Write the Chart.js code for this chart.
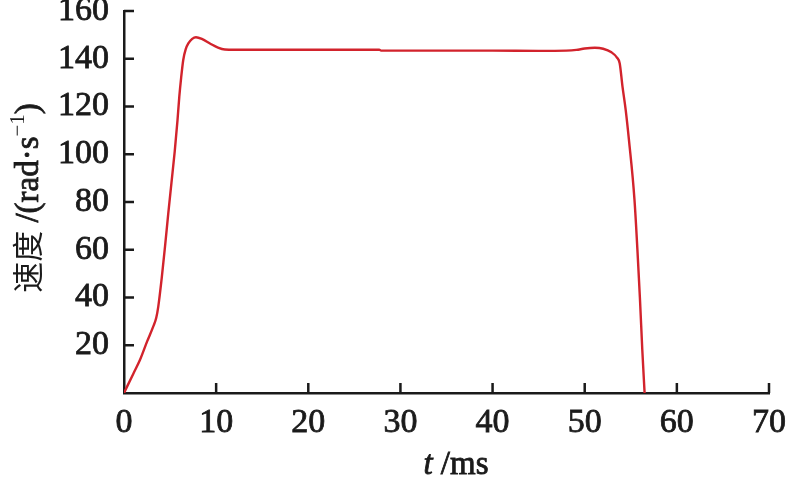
<!DOCTYPE html>
<html>
<head>
<meta charset="utf-8">
<script src="https://cdn.jsdelivr.net/npm/chart.js@4.4.1/dist/chart.umd.min.js"></script>
<style>
html,body{margin:0;padding:0;background:#fff;}
#wrap{width:788px;height:480px;position:relative;}
</style>
</head>
<body>
<div id="wrap"><canvas id="c" width="788" height="480"></canvas></div>
<script>
// time in ms
const timeMs = [0, 1.0, 1.74, 2.5, 3.18, 3.5, 3.72, 4.09, 4.45, 4.8, 5.15, 5.5, 5.8, 6.0, 6.2, 6.43, 6.7, 6.98, 7.4, 7.81, 8.5, 9.33, 10.2, 10.95, 12, 20, 27.7, 27.9, 40, 45, 48, 49.1, 50, 51.1, 52, 52.9, 53.5, 53.8, 54.1, 54.45, 54.8, 55.4, 56.0, 56.25, 56.5];
// speed in rad/s
const speed = [0, 8, 13.9, 21.5, 27.9, 31.5, 36.2, 48, 61.3, 75, 88, 101, 114, 124, 132, 139.5, 144, 146.4, 148.3, 149, 148.2, 146.4, 144.7, 143.9, 143.8, 143.8, 143.8, 143.4, 143.4, 143.3, 143.4, 143.7, 144.3, 144.6, 144.2, 142.7, 140.5, 138, 128.3, 118.5, 106, 81, 39, 18, 0];
const xTicks = [0, 10, 20, 30, 40, 50, 60, 70];
const yTicks = [0, 20, 40, 60, 80, 100, 120, 140, 160];
const xTitleItalic = 't';
const xTitleRest = ' /ms';
const yTitleCJK = '速度';
const yTitleLatin = ' /(rad·s';
const yTitleSup = '−1';
const yTitleEnd = ')';

const points = timeMs.map((t, i) => ({x: t, y: speed[i]}));
const INK = '#1a1a1a';
const SERIF = '"Liberation Serif", "Times New Roman", serif';

const tickPlugin = {
  id: 'inwardTicks',
  afterDraw(chart) {
    const ctx = chart.ctx;
    const xs = chart.scales.x, ys = chart.scales.y;
    const a = chart.chartArea;
    ctx.save();
    ctx.strokeStyle = INK;
    ctx.lineWidth = 2.5;
    ctx.beginPath();
    xTicks.forEach(v => {
      if (v === 0) return;
      const px = xs.getPixelForValue(v);
      ctx.moveTo(px, a.bottom);
      ctx.lineTo(px, a.bottom - 10);
    });
    yTicks.forEach(v => {
      if (v === 0) return;
      const py = ys.getPixelForValue(v);
      ctx.moveTo(a.left, py);
      ctx.lineTo(a.left + 10, py);
    });
    ctx.stroke();

    // x title
    ctx.fillStyle = INK;
    ctx.strokeStyle = INK;
    ctx.lineWidth = 0.8;
    ctx.textBaseline = 'alphabetic';
    const tFontI = 'italic 33px ' + SERIF;
    const tFont = '33px ' + SERIF;
    ctx.font = tFontI;
    const w1 = ctx.measureText(xTitleItalic).width;
    ctx.font = tFont;
    const w2 = ctx.measureText(xTitleRest).width;
    let x0 = 456 - (w1 + w2) / 2;
    const by = 474;
    ctx.font = tFontI;
    ctx.fillText(xTitleItalic, x0, by); ctx.strokeText(xTitleItalic, x0, by);
    ctx.font = tFont;
    ctx.fillText(xTitleRest, x0 + w1, by); ctx.strokeText(xTitleRest, x0 + w1, by);

    // y title rotated
    ctx.save();
    ctx.translate(38, 198);
    ctx.rotate(-Math.PI / 2);
    const cjkFont = '31px "Noto Sans CJK SC", sans-serif';
    const latFont = '33px ' + SERIF;
    const supFont = '21px ' + SERIF;
    ctx.font = cjkFont; const c1 = ctx.measureText(yTitleCJK).width;
    ctx.font = latFont; const c2 = ctx.measureText(yTitleLatin).width;
    ctx.font = supFont; const c3 = ctx.measureText(yTitleSup).width;
    ctx.font = latFont; const c4 = ctx.measureText(yTitleEnd).width;
    let sx = -(c1 + c2 + c3 + c4) / 2;
    ctx.font = cjkFont; ctx.fillText(yTitleCJK, sx, 1); sx += c1;
    ctx.font = latFont; ctx.fillText(yTitleLatin, sx, 0); ctx.strokeText(yTitleLatin, sx, 0); sx += c2;
    ctx.font = supFont; ctx.fillText(yTitleSup, sx, -14); sx += c3;
    ctx.font = latFont; ctx.fillText(yTitleEnd, sx, 0); ctx.strokeText(yTitleEnd, sx, 0);
    ctx.restore();
    ctx.restore();
  }
};

new Chart(document.getElementById('c'), {
  type: 'scatter',
  data: {
    datasets: [{
      data: points,
      showLine: true,
      borderColor: '#d2232c',
      borderWidth: 2.4,
      pointRadius: 0,
      cubicInterpolationMode: 'monotone',
      fill: false
    }]
  },
  options: {
    responsive: false,
    animation: false,
    devicePixelRatio: 1,
    layout: {padding: {top: 11, right: 19, left: 0, bottom: 0}},
    plugins: {legend: {display: false}, tooltip: {enabled: false}},
    scales: {
      x: {
        type: 'linear', min: 0, max: 70,
        afterBuildTicks: s => { s.ticks = xTicks.map(v => ({value: v})); },
        afterFit: s => { s.height = 87; s.paddingLeft = 0; s.paddingRight = 0; },
        grid: {display: false, drawTicks: false},
        border: {display: true, color: INK, width: 2.5},
        ticks: {color: INK, font: {family: SERIF, size: 34}, padding: 10, maxRotation: 0,
          textStrokeColor: INK, textStrokeWidth: 0.8}
      },
      y: {
        type: 'linear', min: 0, max: 160,
        afterBuildTicks: s => { s.ticks = yTicks.map(v => ({value: v})); },
        afterFit: s => { s.width = 124; s.paddingTop = 0; s.paddingBottom = 0; },
        grid: {display: false, drawTicks: false},
        border: {display: true, color: INK, width: 2.5},
        ticks: {color: INK, font: {family: SERIF, size: 34}, padding: 15,
          textStrokeColor: INK, textStrokeWidth: 0.8,
          callback: v => v === 0 ? '' : String(v)}
      }
    }
  },
  plugins: [tickPlugin]
});
</script>
</body>
</html>
